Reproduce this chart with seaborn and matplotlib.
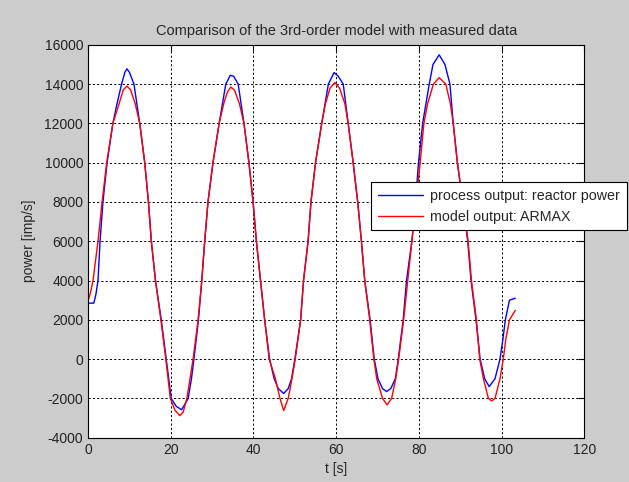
import matplotlib
matplotlib.use("Agg")
import matplotlib.pyplot as plt
import seaborn as sns
import pandas as pd

# process output (blue)
t_meas = [0.0, 1.4, 1.9, 2.4, 2.9, 3.6, 4.6, 6.0, 7.0, 8.1, 8.9, 9.4, 10.0, 11.1, 12.5, 13.7,
          14.6, 15.3, 16.3, 17.7, 18.9, 20.1, 21.3, 22.6, 23.4, 24.2, 25.0, 25.6, 26.7, 27.5,
          28.2, 29.0, 30.2, 31.7, 32.5, 33.3, 34.4, 35.2, 36.3, 37.7, 38.9, 39.9, 40.7, 41.7,
          42.7, 43.9, 45.0, 46.0, 47.3, 48.4, 49.2, 50.0, 51.4, 52.1, 53.2, 53.9, 55.0, 56.5,
          57.3, 58.1, 59.5, 60.5, 61.7, 62.9, 64.1, 65.2, 66.1, 66.9, 68.2, 69.2, 70.1, 71.2,
          72.2, 73.2, 74.3, 75.0, 76.2, 77.0, 78.3, 79.2, 79.9, 80.9, 82.5, 83.4, 84.9, 86.3,
          87.5, 88.3, 89.3, 90.6, 91.8, 92.6, 93.8, 94.8, 95.9, 97.0, 98.4, 99.6, 100.3, 100.9,
          101.9, 103.3]
p_meas = [2850, 2850, 3300, 4000, 6000, 8000, 10000, 12000, 13000, 14000, 14600, 14780, 14600,
          14000, 12000, 10000, 8000, 6000, 4000, 2000, 0, -2000, -2400, -2580, -2300, -2000,
          -1000, 0, 2000, 4000, 6000, 8000, 10000, 12000, 13000, 14000, 14450, 14400, 14000,
          12000, 10000, 8000, 6000, 4000, 2000, 0, -1000, -1500, -1750, -1500, -1000, 0, 2000,
          4000, 6000, 8000, 10000, 12000, 13000, 14000, 14590, 14400, 14000, 12000, 10000, 8000,
          6000, 4000, 2000, 0, -1000, -1500, -1650, -1500, -1000, 0, 2000, 4000, 6000, 8000,
          10000, 12000, 14000, 15000, 15490, 15000, 14000, 12000, 10000, 8000, 6000, 4000, 2000,
          0, -1000, -1400, -1000, 0, 1000, 2000, 3000, 3100]

# model output ARMAX (red)
t_model = [0.0, 0.6, 1.2, 2.4, 3.4, 4.5, 6.0, 7.5, 8.5, 9.4, 10.3, 11.4, 12.5, 13.7, 14.6, 15.3,
           16.3, 17.6, 18.8, 19.9, 21.0, 22.2, 23.0, 23.9, 25.4, 26.6, 27.5, 28.2, 29.0, 30.2,
           31.7, 32.8, 33.7, 34.5, 35.4, 36.6, 37.7, 38.9, 39.9, 40.7, 41.7, 42.7, 43.8, 45.3,
           46.4, 47.3, 48.4, 49.3, 50.1, 51.4, 52.1, 53.2, 53.9, 55.0, 56.5, 57.4, 58.5, 59.7,
           60.8, 62.1, 62.9, 64.1, 65.2, 66.1, 66.9, 68.1, 69.1, 69.8, 71.2, 72.3, 73.4, 74.4,
           75.1, 76.3, 77.3, 78.3, 79.3, 80.3, 81.2, 82.1, 83.5, 84.9, 86.5, 87.6, 88.3, 89.3,
           90.6, 91.9, 92.7, 93.9, 94.7, 95.6, 96.8, 97.6, 98.4, 99.6, 100.4, 101.0, 101.9, 103.3]
p_model = [2950, 3400, 4000, 6000, 8000, 10000, 12000, 13000, 13700, 13900, 13700, 13000, 12000,
           10000, 8000, 6000, 4000, 2000, 0, -2000, -2600, -2880, -2700, -2000, 0, 2000, 4000,
           6000, 8000, 10000, 12000, 13000, 13600, 13850, 13700, 13000, 12000, 10000, 8000,
           6000, 4000, 2000, 0, -1000, -2000, -2620, -2000, -1000, 0, 2000, 4000, 6000, 8000,
           10000, 12000, 13000, 13800, 14080, 13800, 13000, 12000, 10000, 8000, 6000, 4000,
           2000, 0, -1000, -2000, -2330, -2000, -1000, 0, 2000, 4000, 6000, 8000, 10000, 12000,
           13000, 14000, 14330, 14000, 13000, 12000, 10000, 8000, 6000, 4000, 2000, 0, -1000,
           -2000, -2130, -2000, -1000, 0, 1000, 2000, 2480]

x_ticks = [0, 20, 40, 60, 80, 100, 120]
y_ticks = [-4000, -2000, 0, 2000, 4000, 6000, 8000, 10000, 12000, 14000, 16000]

meas = pd.DataFrame({"t": t_meas, "p": p_meas})
model = pd.DataFrame({"t": t_model, "p": p_model})

sns.set_style("white")
plt.rcParams["font.family"] = ["Liberation Sans", "DejaVu Sans"]
plt.rcParams["font.size"] = 10
plt.rcParams["axes.unicode_minus"] = False

fig = plt.figure(figsize=(6.29, 4.82), dpi=100, facecolor="#cccccc")
ax = fig.add_axes([0.140, 0.092, 0.789, 0.815])
ax.set_facecolor("white")

sns.lineplot(data=meas, x="t", y="p", color="blue", lw=1, ax=ax,
             label="process output: reactor power")
sns.lineplot(data=model, x="t", y="p", color="red", lw=1, ax=ax,
             label="model output: ARMAX")

ax.set_xlim(0, 120)
ax.set_ylim(-4000, 16000)
ax.set_xticks(x_ticks)
ax.set_yticks(y_ticks)
ax.grid(True, color="black", linestyle=(0, (2.2, 2.2)), linewidth=0.7)
ax.tick_params(direction="in", top=True, right=True, length=4, labelsize=10,
               color="black", labelcolor="#222222")
for s in ax.spines.values():
    s.set_color("black")
    s.set_linewidth(0.8)

ax.set_title("Comparison of the 3rd-order model with measured data", fontsize=10.5, pad=7)
ax.set_xlabel("t [s]", fontsize=10, labelpad=4)
ax.set_ylabel("power [imp/s]", fontsize=10, labelpad=6)

leg = ax.legend(loc="upper left", bbox_to_anchor=(0.590, 0.622),
                bbox_transform=fig.transFigure, frameon=True, fancybox=False,
                edgecolor="black", framealpha=1, fontsize=10.3, handlelength=3.2,
                borderpad=0.45, labelspacing=0.5, borderaxespad=0, handletextpad=0.5)
leg.get_frame().set_linewidth(0.8)

fig.savefig("out.png", dpi=100, facecolor=fig.get_facecolor())
